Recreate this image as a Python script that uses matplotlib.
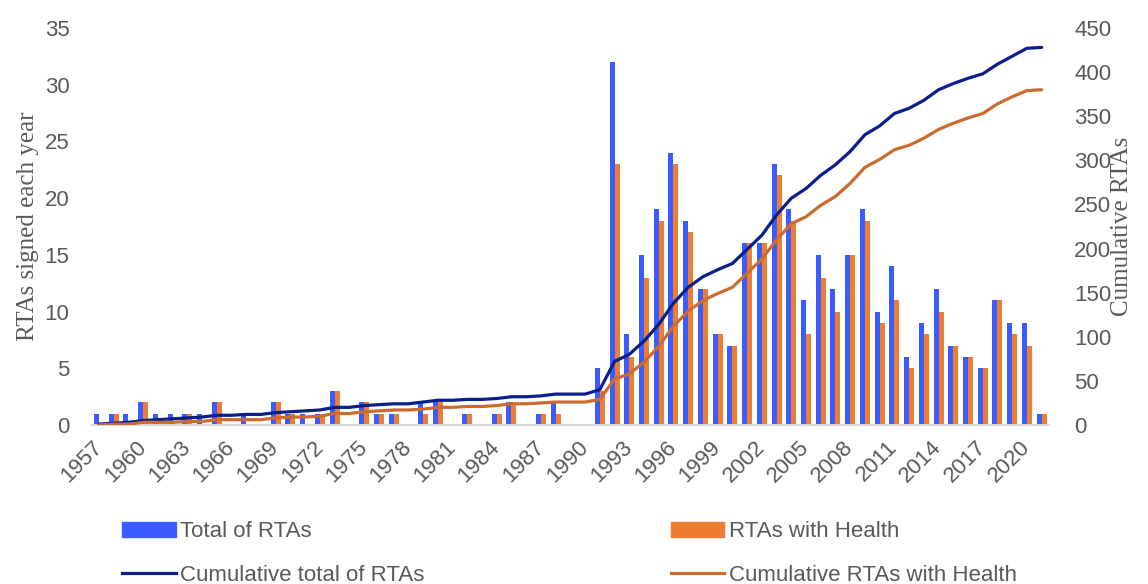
import matplotlib
matplotlib.use("Agg")
import matplotlib.pyplot as plt
import numpy as np
from matplotlib.lines import Line2D
from matplotlib.patches import Patch

years = list(range(1957, 2022))

total_rtas = [
    1, 1, 1, 2, 1, 1, 1, 1, 2, 0,   # 1957-1966
    1, 0, 2, 1, 1, 1, 3, 0, 2, 1,   # 1967-1976
    1, 0, 2, 2, 0, 1, 0, 1, 2, 0,   # 1977-1986
    1, 2, 0, 0, 5, 32, 8, 15, 19, 24,  # 1987-1996
    18, 12, 8, 7, 16, 16, 23, 19, 11, 15,  # 1997-2006
    12, 15, 19, 10, 14, 6, 9, 12, 7, 6,  # 2007-2016
    5, 11, 9, 9, 1,                     # 2017-2021
]
health_rtas = [
    0, 1, 0, 2, 0, 0, 1, 0, 2, 0,
    0, 0, 2, 1, 0, 1, 3, 0, 2, 1,
    1, 0, 1, 2, 0, 1, 0, 1, 2, 0,
    1, 1, 0, 0, 3, 23, 6, 13, 18, 23,
    17, 12, 8, 7, 16, 16, 22, 18, 8, 13,
    10, 15, 18, 9, 11, 5, 8, 10, 7, 6,
    5, 11, 8, 7, 1,
]

cum_total = np.cumsum(total_rtas)
cum_health = np.cumsum(health_rtas)

BLUE = "#3A5BFF"
ORANGE = "#ED7D31"
NAVY = "#0A1E8C"
RUST = "#CC6B2F"
TXT = "#595959"

plt.rcParams["font.family"] = ["Liberation Sans", "DejaVu Sans"]

fig = plt.figure(figsize=(11.48, 5.84), dpi=100)
ax = fig.add_axes([0.0798, 0.2723, 0.834, 0.6798])
ax2 = ax.twinx()

x = np.arange(len(years))
w = 0.34
ax.bar(x - w / 2, total_rtas, width=w, color=BLUE, zorder=2)
ax.bar(x + w / 2, health_rtas, width=w, color=ORANGE, zorder=2)

ax2.plot(x, cum_total, color=NAVY, lw=2.3, solid_capstyle="round")
ax2.plot(x, cum_health, color=RUST, lw=2.3, solid_capstyle="round")

ax.set_xlim(-0.5, len(years) - 0.5)
ax.set_ylim(0, 35)
ax2.set_ylim(0, 450)
ax.set_yticks(range(0, 36, 5))
ax2.set_yticks(range(0, 451, 50))

ax.set_xticks(x[::3])
ax.set_xticklabels([str(y) for y in years[::3]], rotation=45, ha="right",
                   rotation_mode="anchor", va="center")

for a in (ax, ax2):
    for s in a.spines.values():
        s.set_visible(False)
ax.spines["bottom"].set_visible(True)
ax.spines["bottom"].set_color("#d9d9d9")
ax.spines["bottom"].set_linewidth(1.5)

ax.tick_params(axis="y", length=0, pad=16, labelsize=16, labelcolor=TXT)
ax2.tick_params(axis="y", length=0, pad=18, labelsize=16, labelcolor=TXT)
ax.tick_params(axis="x", length=0, pad=14, labelsize=16, labelcolor=TXT)

ax.set_ylabel("RTAs signed each year", family="Liberation Serif",
              fontsize=18, color=TXT, labelpad=4)
ax2.set_ylabel("Cumulative RTAs", family="Liberation Serif",
               fontsize=18, color=TXT, labelpad=0)

handles = [
    Patch(color=BLUE),
    Line2D([], [], color=NAVY, lw=2.3),
    Patch(color=ORANGE),
    Line2D([], [], color=RUST, lw=2.3),
]
labels = ["Total of RTAs", "Cumulative total of RTAs",
          "RTAs with Health", "Cumulative RTAs with Health"]
fig.legend(handles, labels, ncol=2, loc="lower left",
           bbox_to_anchor=(0.089, -0.037), frameon=False, fontsize=16,
           labelcolor=TXT, handlelength=2.4, handletextpad=0.2,
           columnspacing=11.1, labelspacing=1.0)

fig.savefig("out.png", dpi=100)
